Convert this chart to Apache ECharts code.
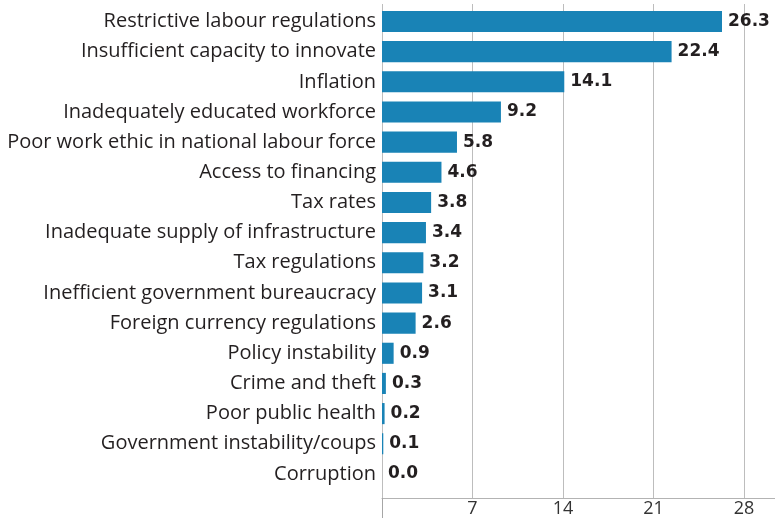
<!DOCTYPE html>
<html>
<head>
<meta charset="utf-8">
<script src="https://cdn.jsdelivr.net/npm/echarts@6/dist/echarts.min.js"></script>
<style>
  html, body { margin: 0; padding: 0; background: #fff; }
  #chart { width: 775px; height: 520px; }
</style>
</head>
<body>
<div id="chart"></div>
<script>
// problems listed top to bottom
const categories = [
  'Restrictive labour regulations',
  'Insufficient capacity to innovate',
  'Inflation',
  'Inadequately educated workforce',
  'Poor work ethic in national labour force',
  'Access to financing',
  'Tax rates',
  'Inadequate supply of infrastructure',
  'Tax regulations',
  'Inefficient government bureaucracy',
  'Foreign currency regulations',
  'Policy instability',
  'Crime and theft',
  'Poor public health',
  'Government instability/coups',
  'Corruption'
];
const values = [26.3, 22.4, 14.1, 9.2, 5.8, 4.6, 3.8, 3.4, 3.2, 3.1, 2.6, 0.9, 0.3, 0.2, 0.1, 0.0];
const tickStep = 7;

const axisMax = 30.4;
const barColor = '#1983b6';
const textColor = '#231f20';

const myChart = echarts.init(document.getElementById('chart'));

const options = {
  animation: false,
  grid: [
    // background grid: gridlines + value axis
    { left: 382, top: 4, width: 394, height: 494 },
    // bars
    { left: 382, top: 6.4, width: 394, height: 482.6 }
  ],
  xAxis: [
    {
      gridIndex: 0,
      type: 'value',
      min: 0,
      max: axisMax,
      interval: tickStep,
      axisLine: { show: true, lineStyle: { color: '#b3b3b3', width: 1 } },
      axisTick: { show: false },
      axisLabel: {
        showMinLabel: false,
        showMaxLabel: false,
        fontFamily: 'Open Sans',
        fontSize: 18,
        color: '#333',
        margin: 2
      },
      splitLine: { show: true, showMaxLine: false, lineStyle: { color: '#bdbdbd', width: 1 } }
    },
    {
      // only the small tick under zero
      gridIndex: 0,
      type: 'value',
      min: 0,
      max: axisMax,
      position: 'bottom',
      axisLine: { show: false },
      axisLabel: { show: false },
      splitLine: { show: false },
      axisTick: { show: true, customValues: [0], length: 20, lineStyle: { color: '#a6a6a6', width: 1 } }
    },
    {
      gridIndex: 1,
      type: 'value',
      min: 0,
      max: axisMax,
      show: false
    }
  ],
  yAxis: [
    { gridIndex: 0, type: 'value', show: false },
    {
      gridIndex: 1,
      type: 'category',
      inverse: true,
      data: categories,
      axisLine: { show: false },
      axisTick: { show: false },
      axisLabel: {
        fontFamily: 'Open Sans',
        fontSize: 20,
        color: textColor,
        margin: 6
      }
    }
  ],
  series: [
    {
      type: 'bar',
      xAxisIndex: 2,
      yAxisIndex: 1,
      data: values,
      barWidth: '70%',
      itemStyle: { color: barColor },
      label: {
        show: true,
        position: 'right',
        distance: 6,
        fontFamily: 'DejaVu Sans',
        fontWeight: 'bold',
        fontSize: 17,
        color: textColor,
        formatter: (p) => p.value.toFixed(1)
      }
    }
  ]
};

myChart.setOption(options);
window.addEventListener('resize', myChart.resize);
</script>
</body>
</html>
